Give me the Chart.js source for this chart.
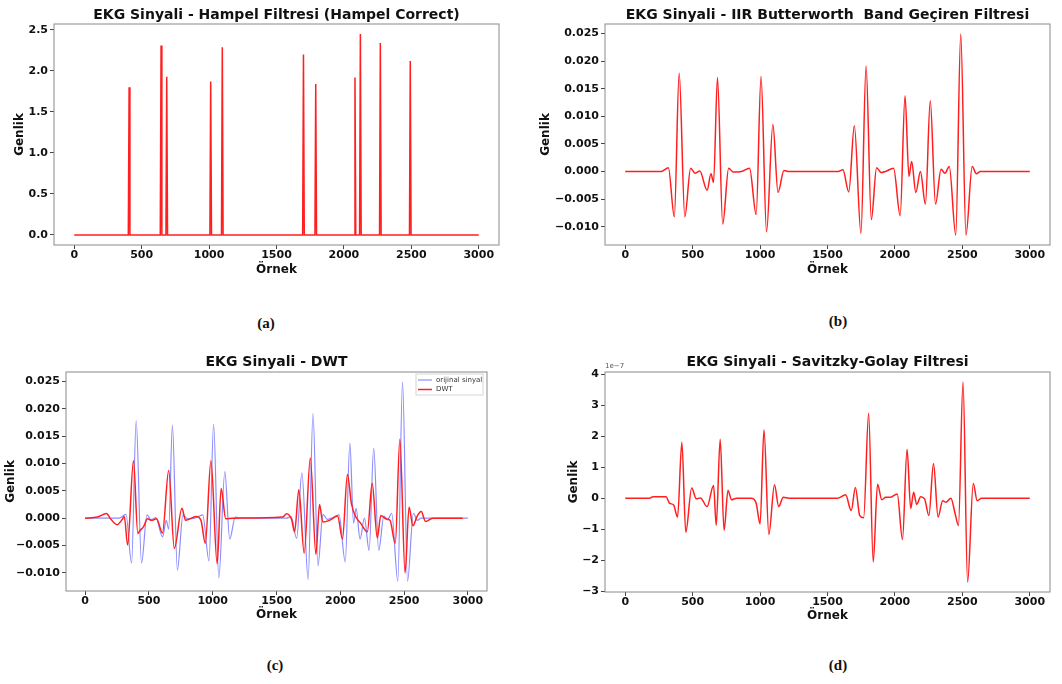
<!DOCTYPE html>
<html>
<head>
<meta charset="utf-8">
<script src="https://cdn.jsdelivr.net/npm/chart.js@4.4.0/dist/chart.umd.min.js"></script>
<style>
  body { margin: 0; background: #fff; width: 1062px; height: 684px; position: relative; overflow: hidden; }
  canvas { position: absolute; }
  .cap { position: absolute; font-family: 'Liberation Serif', serif; font-weight: bold; font-size: 15px; color: #111; transform: translate(-50%, -50%); }
</style>
</head>
<body>
<canvas id="chartA" width="531" height="282" style="left:0;top:0"></canvas>
<canvas id="chartB" width="531" height="282" style="left:531px;top:0"></canvas>
<canvas id="chartC" width="531" height="287" style="left:0;top:340px"></canvas>
<canvas id="chartD" width="531" height="288" style="left:531px;top:340px"></canvas>
<div class="cap" style="left:266px;top:323px">(a)</div>
<div class="cap" style="left:838px;top:321px">(b)</div>
<div class="cap" style="left:275px;top:665px">(c)</div>
<div class="cap" style="left:838px;top:665px">(d)</div>
<script>
// sample axis ticks
const xTicks = [0, 500, 1000, 1500, 2000, 2500, 3000];

// (a) Hampel filter: spikes on a zero baseline
const hampelPeakX = [407, 644, 686, 1012, 1098, 1700, 1791, 2082, 2122, 2270, 2492];
const hampelPeakY = [1.80, 2.31, 1.93, 1.87, 2.29, 2.20, 1.84, 1.92, 2.45, 2.34, 2.12];
const hampelYTicks = [0, 0.5, 1.0, 1.5, 2.0, 2.5];

// (b) IIR Butterworth band-pass (also the "orijinal sinyal" in (c))
const bwX = [0, 267, 320, 364, 400, 442, 485, 517, 553, 607,
  636, 655, 684, 723, 767, 801, 862, 922, 971, 1007,
  1048, 1095, 1133, 1177, 1214, 1578, 1614, 1658, 1699, 1748,
  1786, 1825, 1864, 1898, 1930, 1990, 2039, 2075, 2104, 2124,
  2155, 2189, 2226, 2262, 2301, 2342, 2371, 2403, 2451, 2488,
  2527, 2573, 2604, 2633, 3000];
const bwY = [0, 0, 0.0007, -0.0082, 0.0178, -0.0082, 0.0006, -0.0003, 0.0001, -0.0034,
  -0.0004, -0.0020, 0.0170, -0.0095, 0.0006, -0.0001, 0, 0.0006, -0.0078, 0.0172,
  -0.0109, 0.0085, -0.0038, 0.0002, 0, 0, 0.0003, -0.0037, 0.0083, -0.0112,
  0.0191, -0.0087, 0.0007, -0.0002, 0, 0.0006, -0.0080, 0.0137, -0.0009, 0.0018,
  -0.0038, 0, -0.0059, 0.0128, -0.0059, 0.0004, -0.0003, 0.0009, -0.0115, 0.0249,
  -0.0115, 0.0009, -0.0004, 0, 0];
const bwYTicks = [-0.010, -0.005, 0, 0.005, 0.010, 0.015, 0.020, 0.025];

// (c) DWT
const dwtX = [0, 96, 168, 199, 250, 289, 307, 333, 379, 413,
  431, 457, 488, 521, 560, 606, 655, 699, 759, 787,
  870, 908, 942, 986, 1035, 1066, 1102, 1153, 1547, 1580,
  1619, 1642, 1675, 1717, 1765, 1809, 1837, 1863, 1915, 1979,
  2017, 2056, 2087, 2120, 2159, 2212, 2250, 2290, 2318, 2357,
  2390, 2431, 2467, 2508, 2539, 2570, 2601, 2634, 2668, 2724, 2960];
const dwtY = [0, 0.0002, 0.00085, -0.0001, -0.0012, -0.0003, 0.0003, -0.0049, 0.0105, -0.0028,
  -0.0022, -0.0016, -0.0001, -0.0004, -0.0001, -0.0027, 0.0087, -0.0055, 0.0018, -0.0004,
  0.0003, -0.0004, -0.0046, 0.0105, -0.0083, 0.0054, -0.0001, 0, 0.0002, 0.0008,
  -0.0003, -0.0025, 0.0052, -0.0064, 0.0110, -0.0066, 0.0025, -0.0007, -0.0004, 0.0004,
  -0.0038, 0.0080, 0.0027, 0.0003, -0.0009, -0.0025, 0.0064, -0.0036, 0.0005, -0.0001,
  -0.0004, -0.0046, 0.0144, -0.0100, 0.0020, -0.0014, 0.0003, 0.0012, -0.0006, 0, 0];

// (d) Savitzky-Golay, values in units of 1e-7
const sgX = [0, 182, 206, 303, 328, 359, 388, 420, 449, 493,
  527, 558, 607, 655, 675, 704, 733, 762, 789, 825,
  934, 971, 1000, 1029, 1065, 1107, 1138, 1172, 1214, 1573,
  1634, 1676, 1707, 1739, 1768, 1805, 1839, 1871, 1903, 1932,
  1964, 2017, 2056, 2090, 2117, 2139, 2161, 2191, 2220, 2252,
  2286, 2320, 2354, 2378, 2415, 2447, 2471, 2505, 2539, 2581,
  2610, 2642, 3000];
const sgY = [0, 0, 0.05, 0.05, -0.16, -0.22, -0.61, 1.81, -1.10, 0.33,
  -0.02, 0.01, -0.27, 0.41, -0.88, 1.91, -1.04, 0.25, -0.05, 0,
  0, -0.16, -0.83, 2.21, -1.17, 0.44, -0.27, 0.03, 0, 0,
  0.11, -0.40, 0.35, -0.56, -0.63, 2.75, -2.06, 0.45, -0.05, 0.03,
  0.03, 0.14, -1.33, 1.58, -0.33, 0.19, -0.20, 0.05, -0.02, -0.56,
  1.12, -0.61, -0.08, -0.13, 0, -0.51, -0.88, 3.76, -2.71, 0.48,
  -0.08, 0, 0];
const sgYTicks = [-3, -2, -1, 0, 1, 2, 3, 4];

const FONT = "'DejaVu Sans', sans-serif";
const RED = '#ff1f1f';

function toPoints(xs, ys) {
  return xs.map((x, i) => ({ x: x, y: ys[i] }));
}

function hampelPoints() {
  const pts = [{ x: 0, y: 0 }];
  hampelPeakX.forEach((px, i) => {
    pts.push({ x: px - 6, y: 0 }, { x: px, y: hampelPeakY[i] }, { x: px + 6, y: 0 });
  });
  pts.push({ x: 3000, y: 0 });
  return pts;
}

function fmt(v, d) {
  const s = Math.abs(v).toFixed(d);
  return v < -1e-12 ? '\u2212' + s : s;
}

// box around the plot like matplotlib spines
const framePlugin = {
  id: 'frame',
  afterDraw(chart) {
    const { ctx, chartArea: a } = chart;
    ctx.save();
    ctx.strokeStyle = '#8a8a8a';
    ctx.lineWidth = 1;
    ctx.strokeRect(a.left, a.top, a.right - a.left, a.bottom - a.top);
    ctx.restore();
  }
};

// legend box in the upper right corner of (c)
const dwtLegend = {
  id: 'dwtLegend',
  afterDraw(chart) {
    const { ctx, chartArea: a } = chart;
    const left = a.right - 71, top = a.top + 2;
    ctx.save();
    ctx.fillStyle = 'rgba(255,255,255,0.8)';
    ctx.strokeStyle = '#d6d6d6';
    ctx.lineWidth = 1;
    ctx.fillRect(left, top, 67, 21);
    ctx.strokeRect(left, top, 67, 21);
    ctx.font = '7px ' + FONT;
    ctx.textBaseline = 'middle';
    chart.data.datasets.forEach((ds, i) => {
      const y = top + 6 + i * 9.5;
      ctx.strokeStyle = ds.borderColor;
      ctx.lineWidth = ds.borderWidth;
      ctx.beginPath();
      ctx.moveTo(left + 2, y);
      ctx.lineTo(left + 16, y);
      ctx.stroke();
      ctx.fillStyle = '#333';
      ctx.fillText(ds.label, left + 20, y);
    });
    ctx.restore();
  }
};

// scale factor label of (d)
const offsetText = {
  id: 'offsetText',
  afterDraw(chart) {
    const { ctx, chartArea: a } = chart;
    ctx.save();
    ctx.font = '7px ' + FONT;
    ctx.fillStyle = '#555';
    ctx.textBaseline = 'bottom';
    ctx.fillText('1e\u22127', a.left, a.top - 2);
    ctx.restore();
  }
};

function makeChart(id, o) {
  const ctx = document.getElementById(id).getContext('2d');
  return new Chart(ctx, {
    type: 'line',
    data: { datasets: o.datasets },
    options: {
      responsive: false,
      animation: false,
      layout: { padding: { right: o.padRight } },
      plugins: {
        legend: { display: false },
        tooltip: { enabled: false },
        title: {
          display: true, text: o.title, fullSize: false, color: '#111',
          font: { family: FONT, size: 14, weight: 'bold' },
          padding: { top: o.titleTop, bottom: o.titleBottom }
        }
      },
      scales: {
        x: {
          type: 'linear', min: -150, max: 3150,
          afterBuildTicks: s => { s.ticks = xTicks.map(v => ({ value: v })); },
          afterFit: s => { s.height = o.xHeight; },
          ticks: { color: '#111', font: { family: FONT, size: 11, weight: 'bold' }, padding: 0, maxRotation: 0, callback: v => String(v) },
          grid: { drawOnChartArea: false, drawTicks: true, tickLength: 4, tickColor: '#444' },
          border: { display: false },
          title: { display: true, text: 'Örnek', color: '#111', font: { family: FONT, size: 12, weight: 'bold' }, padding: { top: 0, bottom: 5 } }
        },
        y: {
          type: 'linear', min: o.yMin, max: o.yMax,
          afterBuildTicks: s => { s.ticks = o.yTicks.map(v => ({ value: v })); },
          afterFit: s => { s.width = o.yWidth; },
          ticks: { color: '#111', font: { family: FONT, size: 11, weight: 'bold' }, padding: 2, callback: v => fmt(v, o.dec) },
          grid: { drawOnChartArea: false, drawTicks: true, tickLength: 4, tickColor: '#444' },
          border: { display: false },
          title: { display: true, text: 'Genlik', color: '#111', font: { family: FONT, size: 12, weight: 'bold' }, padding: { top: o.yTitlePad, bottom: 0 } }
        }
      }
    },
    plugins: [framePlugin].concat(o.extra || [])
  });
}

function redLine(label, pts, smooth) {
  return {
    label: label, data: pts, borderColor: RED, borderWidth: 1.5,
    pointRadius: 0, fill: false, order: 0,
    cubicInterpolationMode: smooth ? 'monotone' : 'default', tension: 0
  };
}

makeChart('chartA', {
  title: 'EKG Sinyali - Hampel Filtresi (Hampel Correct)',
  datasets: [redLine('Hampel', hampelPoints(), false)],
  yMin: -0.1225, yMax: 2.5725, yTicks: hampelYTicks, dec: 1,
  yWidth: 54, padRight: 32, xHeight: 37, titleTop: 6.9, titleBottom: 0.3, yTitlePad: 12.8
});

makeChart('chartB', {
  title: 'EKG Sinyali - IIR Butterworth  Band Geçiren Filtresi',
  datasets: [redLine('IIR', toPoints(bwX, bwY), true)],
  yMin: -0.0133, yMax: 0.0267, yTicks: bwYTicks, dec: 3,
  yWidth: 74, padRight: 12, xHeight: 37, titleTop: 6.9, titleBottom: 0.3, yTitlePad: 7.8
});

makeChart('chartC', {
  title: 'EKG Sinyali - DWT',
  datasets: [
    { label: 'orijinal sinyal', data: toPoints(bwX, bwY), borderColor: 'rgba(0,0,255,0.45)', borderWidth: 1.2,
      pointRadius: 0, fill: false, order: 1, cubicInterpolationMode: 'monotone' },
    redLine('DWT', toPoints(dwtX, dwtY), true)
  ],
  yMin: -0.0133, yMax: 0.0267, yTicks: bwYTicks, dec: 3,
  yWidth: 66, padRight: 44, xHeight: 36, titleTop: 13.6, titleBottom: 1.6, yTitlePad: 3.8,
  extra: [dwtLegend]
});

makeChart('chartD', {
  title: 'EKG Sinyali - Savitzky-Golay Filtresi',
  datasets: [redLine('Savitzky-Golay', toPoints(sgX, sgY), true)],
  yMin: -3.03, yMax: 4.08, yTicks: sgYTicks, dec: 0,
  yWidth: 74, padRight: 12, xHeight: 36, titleTop: 13.6, titleBottom: 1.6, yTitlePad: 35.8,
  extra: [offsetText]
});
</script>
</body>
</html>
